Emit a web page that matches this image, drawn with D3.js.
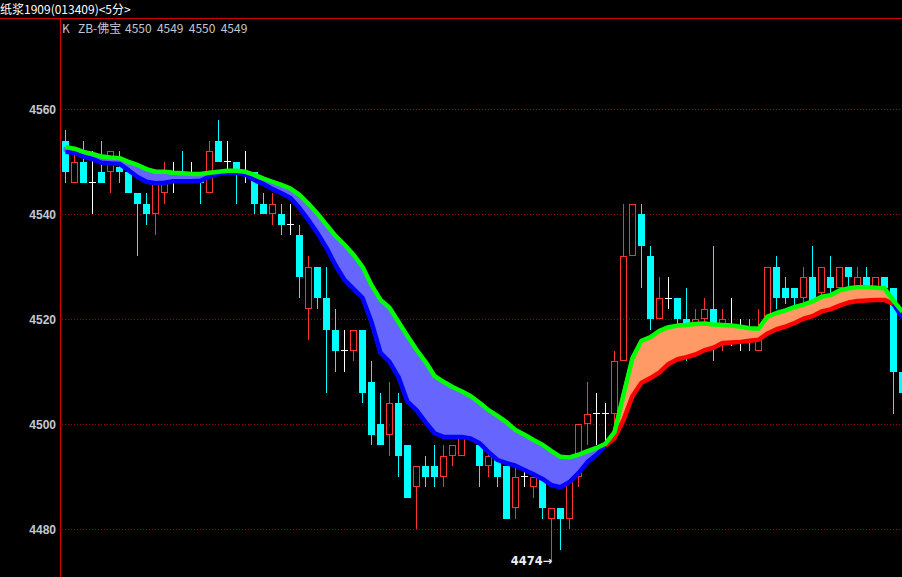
<!DOCTYPE html>
<html><head><meta charset="utf-8">
<script src="https://cdn.jsdelivr.net/npm/d3@7"></script>
<style>html,body{margin:0;padding:0;background:#000;overflow:hidden}</style>
</head><body>
<svg id="c" width="902" height="577"></svg>
<script>
// ---- data ----
const title = "纸浆1909(013409)<5分>";
const legendKey = "K";
const indicatorName = "ZB-佛宝";
const legendValues = ["4550", "4549", "4550", "4549"];
const yTicks = [4480, 4500, 4520, 4540, 4560];

const opens  = [4554,4546,4550,4546,4548,4548,4549,4548,4544,4542, 4540,4544,4547,4547,4548,4548,4544,4554,4550,4550,
                4548,4548,4542,4540,4540,4538,4536,4522,4530,4524, 4518,4514,4514,4518,4508,4500,4498,4504,4496,4488,
                4492,4492,4490,4494,4494,4500,4496,4492,4494,4492, 4484,4490,4488,4490,4482,4484,4482,4490,4500,4502,
                4502,4502,4512,4532,4540,4532,4520,4524,4524,4520, 4519,4520,4522,4519,4516,4516,4517,4514,4518,4530,
                4526,4526,4524,4528,4525,4528,4526,4530,4526,4528, 4526,4528,4526,4510];
const highs  = [4556,4552,4554,4552,4554,4552,4552,4548,4544,4544, 4547,4550,4550,4552,4550,4548,4554,4558,4554,4550,
                4552,4548,4544,4544,4542,4542,4538,4532,4530,4530, 4522,4518,4518,4518,4512,4506,4508,4506,4496,4492,
                4494,4496,4496,4496,4498,4500,4497,4496,4494,4492, 4492,4492,4490,4490,4484,4484,4494,4500,4508,4506,
                4504,4514,4542,4542,4542,4534,4528,4528,4524,4526, 4522,4524,4534,4522,4524,4520,4520,4522,4530,4532,
                4528,4526,4530,4534,4530,4532,4530,4530,4530,4530, 4528,4528,4526,4510];
const lows   = [4546,4546,4546,4540,4546,4544,4546,4544,4532,4538, 4536,4542,4544,4546,4547,4542,4544,4550,4548,4542,
                4546,4540,4540,4538,4536,4536,4524,4516,4522,4506, 4510,4510,4512,4504,4496,4496,4494,4490,4486,4480,
                4488,4488,4488,4492,4494,4498,4488,4490,4488,4482, 4482,4488,4486,4482,4474,4476,4480,4488,4496,4496,
                4496,4498,4512,4532,4526,4518,4520,4522,4519,4512, 4518,4519,4512,4514,4515,4514,4514,4514,4518,4522,
                4523,4522,4523,4522,4524,4525,4526,4526,4526,4525, 4526,4525,4502,4506];
const closes = [4548,4550,4546,4546,4546,4552,4548,4544,4542,4540, 4547,4546,4547,4546,4548,4546,4552,4550,4550,4548,
                4548,4542,4540,4542,4538,4538,4528,4530,4524,4518, 4514,4514,4518,4506,4498,4496,4504,4494,4486,4492,
                4490,4490,4494,4496,4498,4498,4492,4494,4490,4482, 4490,4490,4490,4484,4484,4482,4494,4500,4502,4502,
                4502,4512,4532,4542,4534,4520,4524,4524,4520,4519, 4520,4522,4519,4520,4516,4516,4516,4517,4530,4524,
                4524,4524,4528,4523,4530,4526,4530,4528,4528,4526, 4528,4526,4510,4506];

// ZB-佛宝 band: upper (green) and lower line
const upper = [4552.8,4552.5,4551.9,4551.5,4551.0,4550.8,4550.7,4550.0,4549.4,4548.6,
               4548.1,4548.1,4547.9,4547.8,4547.7,4547.7,4547.9,4548.1,4548.3,4548.3,
               4548.1,4547.5,4546.8,4546.2,4545.6,4544.9,4543.7,4542.0,4540.1,4538.0,
               4535.9,4534.2,4532.3,4530.0,4526.5,4523.7,4522.2,4519.5,4516.8,4514.2,
               4511.9,4509.2,4508.1,4507.1,4506.3,4505.4,4504.1,4502.7,4501.6,4500.4,
               4498.9,4498.0,4497.0,4496.1,4494.9,4493.8,4493.7,4494.2,4494.9,4495.5,
               4496.3,4498.5,4505.6,4512.6,4515.9,4516.6,4517.8,4518.5,4518.8,4518.9,
               4519.1,4519.2,4519.0,4518.9,4518.8,4518.6,4518.3,4518.2,4520.5,4521.2,
               4521.7,4522.3,4522.8,4523.4,4524.3,4524.6,4525.5,4525.9,4526.1,4526.1,
               4526.0,4525.9,4523.5,4521.4];
const lower = [4551.9,4551.7,4551.0,4550.5,4549.8,4549.7,4549.6,4548.4,4547.1,4546.2,
               4545.9,4546.0,4546.3,4546.3,4546.3,4546.4,4547.2,4547.7,4547.9,4547.9,
               4547.5,4546.5,4545.8,4544.8,4544.0,4543.1,4541.2,4538.9,4536.4,4533.6,
               4530.3,4527.5,4525.8,4524.1,4519.5,4513.6,4511.9,4509.0,4504.3,4502.7,
               4500.4,4498.3,4497.6,4497.6,4497.6,4497.3,4496.4,4494.7,4493.2,4492.6,
               4492.1,4491.3,4490.5,4489.6,4488.4,4488.0,4489.0,4490.7,4492.8,4494.2,
               4495.9,4497.4,4500.8,4505.4,4507.9,4508.8,4509.9,4511.5,4512.4,4512.8,
               4513.3,4514.1,4514.6,4515.5,4515.6,4515.7,4515.9,4516.1,4517.3,4518.1,
               4518.6,4519.3,4520.1,4520.6,4521.5,4521.9,4522.6,4523.2,4523.5,4523.6,
               4523.7,4523.7,4522.9,4520.3];
// trend segments of the band (index ranges)
const regimeFrom = [0, 60, 92];
const regimeTo   = [60, 92, 93];
const regimeType = ["down", "up", "down"];

const lowIndex = 54, lowValue = 4474;

// ---- drawing ----
const W = 902, H = 577;
const svg = d3.select("#c");
svg.append("rect").attr("width", W).attr("height", H).attr("fill", "#000");

const y = d3.scaleLinear().domain([4480, 4560]).range([529.3, 109.3]);
const x = d3.scaleLinear().domain([0, 93]).range([65.5, 65.5 + 9 * 93]);

const colors = {
  up: "#ff3232", down: "#00ffff", doji: "#ffffff",
  grid: "#a00000", axis: "#d00000", label: "#c0c8d4",
  green: "#00ff00", blue: "#0000ff", red: "#ff0000",
  fillDown: "#6666ff", fillUp: "#ff9966"
};

// grid
const plot = svg.append("g");
const yAxis = d3.axisLeft(y).tickValues(yTicks).tickSize(0).tickPadding(0).tickFormat(d3.format("d"));
const axisG = svg.append("g").attr("transform", "translate(56,0)").call(yAxis);
axisG.select(".domain").remove();
axisG.selectAll("text").attr("fill", colors.label).attr("font-family", "Liberation Sans, Arial, sans-serif")
  .attr("font-size", "12px").attr("font-weight", "bold").attr("dy", "0.36em").attr("x", 0);

plot.selectAll("line.grid").data(yTicks).join("line")
  .attr("x1", 62).attr("x2", W)
  .attr("y1", d => Math.round(y(d)) + 0.5).attr("y2", d => Math.round(y(d)) + 0.5)
  .attr("stroke", colors.grid).attr("stroke-width", 1).attr("stroke-dasharray", "1,2");

// candles
const idx = d3.range(opens.length);
const cg = plot.append("g").attr("shape-rendering", "crispEdges");
idx.forEach(i => {
  const o = opens[i], c = closes[i], h = highs[i], l = lows[i];
  const cx = x(i);
  const left = cx - 3.5;
  const col = c > o ? colors.up : (c < o ? colors.down : colors.doji);
  const yt = y(Math.max(o, c)), yb = y(Math.min(o, c));
  if (c > o) {
    cg.append("line").attr("x1", cx).attr("x2", cx).attr("y1", y(h)).attr("y2", yt).attr("stroke", col);
    cg.append("line").attr("x1", cx).attr("x2", cx).attr("y1", yb).attr("y2", y(l)).attr("stroke", col);
    cg.append("rect").attr("x", left + 0.5).attr("y", yt + 0.5).attr("width", 6).attr("height", Math.max(1, yb - yt - 1))
      .attr("fill", "none").attr("stroke", col);
  } else if (c < o) {
    cg.append("line").attr("x1", cx).attr("x2", cx).attr("y1", y(h)).attr("y2", y(l)).attr("stroke", col);
    cg.append("rect").attr("x", left).attr("y", yt).attr("width", 7).attr("height", Math.max(1, yb - yt)).attr("fill", col);
  } else {
    cg.append("line").attr("x1", cx).attr("x2", cx).attr("y1", y(h)).attr("y2", y(l)).attr("stroke", col);
    cg.append("line").attr("x1", left).attr("x2", left + 7).attr("y1", yt).attr("y2", yt).attr("stroke", col);
  }
});

// band (fill sits slightly left of the lines, as in the original)
const bandG = plot.append("g");
const fillG = bandG.append("g").attr("transform", "translate(-2,0)");
regimeFrom.forEach((f, k) => {
  const seg = d3.range(f, regimeTo[k] + 1);
  const area = d3.area().x(i => x(i)).y0(i => y(lower[i])).y1(i => y(upper[i]));
  fillG.append("path").datum(seg).attr("d", area)
    .attr("fill", regimeType[k] === "down" ? colors.fillDown : colors.fillUp);
});
regimeFrom.forEach((f, k) => {
  const seg = d3.range(f, regimeTo[k] + 1);
  const ln = d3.line().x(i => x(i)).y(i => y(lower[i]));
  bandG.append("path").datum(seg).attr("d", ln).attr("fill", "none")
    .attr("stroke", regimeType[k] === "down" ? colors.blue : colors.red)
    .attr("stroke-width", 4.5).attr("stroke-linejoin", "round");
});
bandG.append("path").datum(idx).attr("d", d3.line().x(i => x(i)).y(i => y(upper[i])))
  .attr("fill", "none").attr("stroke", colors.green).attr("stroke-width", 4.5).attr("stroke-linejoin", "round");

// low marker
svg.append("text").attr("x", x(lowIndex) + 1).attr("y", 565).attr("text-anchor", "end")
  .attr("fill", "#e8eef8").attr("font-family", "DejaVu Sans, sans-serif")
  .attr("font-size", "11.5px").attr("font-weight", "bold").text(lowValue + "→");

// frame lines
svg.append("line").attr("x1", 0).attr("x2", W).attr("y1", 18.5).attr("y2", 18.5).attr("stroke", colors.axis);
svg.append("line").attr("x1", 60.5).attr("x2", 60.5).attr("y1", 18).attr("y2", H).attr("stroke", colors.axis);

// title & legend
svg.append("text").attr("x", 0).attr("y", 14).attr("fill", "#ffffff")
  .attr("font-family", "Noto Sans CJK SC, sans-serif").attr("font-size", "12px").text(title);
const lg = svg.append("g").attr("fill", colors.label).attr("font-family", "Noto Sans CJK SC, sans-serif").attr("font-size", "12px");
lg.append("text").attr("x", 62).attr("y", 33).text(legendKey);
lg.append("text").attr("x", 78).attr("y", 33).text(indicatorName);
legendValues.forEach((v, k) => lg.append("text").attr("x", 125 + k * 31.9).attr("y", 33).text(v));
</script>
</body></html>
